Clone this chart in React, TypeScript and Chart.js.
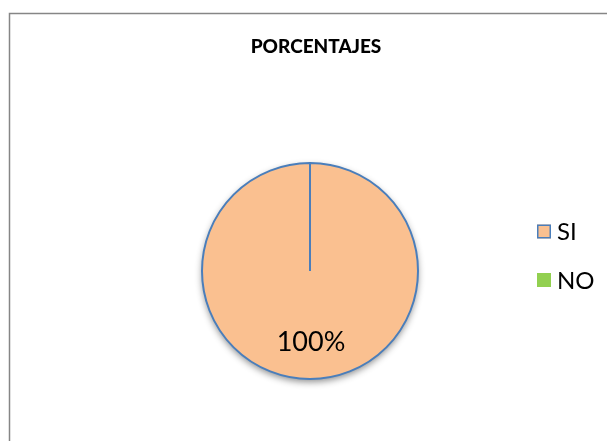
import React, { useEffect, useRef } from "react";
import { Chart, registerables } from "chart.js";

Chart.register(...registerables);

const chartTitle = "PORCENTAJES";
const categories = ["SI", "NO"];
const percentages = [100, 0];

const FONT = "Lato, 'Open Sans', 'Liberation Sans', sans-serif";
const fills = ["#FAC090", "#92D050"];
const borders = ["#4A7EBB", "#92D050"];

const decorPlugin = {
  id: "decor",
  beforeDraw(chart: any) {
    const ctx = chart.ctx;
    ctx.save();
    ctx.fillStyle = "#ffffff";
    ctx.fillRect(0, 0, chart.width, chart.height);
    ctx.strokeStyle = "#868686";
    ctx.lineWidth = 1.5;
    ctx.beginPath();
    ctx.moveTo(chart.width + 5, 13.5);
    ctx.lineTo(9.5, 13.5);
    ctx.lineTo(9.5, chart.height + 5);
    ctx.stroke();
    // title
    ctx.fillStyle = "#000000";
    ctx.font = `900 19px ${FONT}`;
    ctx.textAlign = "center";
    ctx.textBaseline = "alphabetic";
    ctx.fillText(chartTitle, 316, 52.5);
    ctx.restore();
  },
  beforeDatasetsDraw(chart: any) {
    const meta = chart.getDatasetMeta(0);
    const arc = meta.data[0];
    if (!arc) return;
    const { x, y, outerRadius } = arc.getProps(["x", "y", "outerRadius"], true);
    const ctx = chart.ctx;
    ctx.save();
    ctx.shadowColor = "rgba(0,0,0,0.45)";
    ctx.shadowBlur = 7;
    ctx.shadowOffsetY = 3;
    ctx.fillStyle = "#FAC090";
    ctx.beginPath();
    ctx.arc(x, y, outerRadius, 0, Math.PI * 2);
    ctx.fill();
    ctx.restore();
  },
  afterDatasetsDraw(chart: any) {
    const ctx = chart.ctx;
    const meta = chart.getDatasetMeta(0);
    const data = chart.data.datasets[0].data as number[];
    const total = data.reduce((a, b) => a + b, 0);
    ctx.save();
    ctx.fillStyle = "#000000";
    const fs = 27;
    ctx.font = `${fs}px ${FONT}`;
    ctx.textAlign = "center";
    ctx.textBaseline = "alphabetic";
    meta.data.forEach((el: any, i: number) => {
      if (!data[i]) return;
      const { x, y, startAngle, endAngle, outerRadius } = el.getProps(
        ["x", "y", "startAngle", "endAngle", "outerRadius"],
        true
      );
      const mid = (startAngle + endAngle) / 2;
      const r = outerRadius * 0.655;
      const cx = x + Math.cos(mid) * r + 1;
      const cy = y + Math.sin(mid) * r;
      ctx.fillText(Math.round((data[i] / total) * 100) + "%", cx, cy + fs * 0.36);
    });
    // legend
    const labels = chart.data.labels as string[];
    const ds = chart.data.datasets[0] as any;
    const rows = [231.5, 280];
    ctx.textAlign = "left";
    ctx.font = `24px ${FONT}`;
    labels.forEach((lab, i) => {
      const cy = rows[i];
      ctx.fillStyle = ds.backgroundColor[i];
      ctx.fillRect(537, cy - 7, 14, 14);
      if (i === 0) {
        ctx.strokeStyle = ds.borderColor[i];
        ctx.lineWidth = 1.5;
        ctx.strokeRect(537.75, cy - 6.25, 12.5, 12.5);
      }
      ctx.fillStyle = "#000000";
      ctx.fillText(lab, 557, cy + 24 * 0.36);
    });
    ctx.restore();
  },
};

export default function App() {
  const ref = useRef<HTMLCanvasElement | null>(null);
  useEffect(() => {
    if (!ref.current) return;
    const chart = new Chart(ref.current, {
      type: "pie",
      data: {
        labels: categories,
        datasets: [
          {
            data: percentages,
            backgroundColor: fills,
            borderColor: borders,
            borderWidth: [2, 0],
          },
        ],
      },
      options: {
        responsive: false,
        animation: false,
        devicePixelRatio: 1,
        layout: { padding: { left: 160, right: 147, top: 162, bottom: 61 } },
        plugins: {
          legend: { display: false },
          title: { display: false },
          tooltip: { enabled: false },
        },
      },
      plugins: [decorPlugin],
    });
    return () => chart.destroy();
  }, []);
  return (
    <div style={{ position: "fixed", left: 0, top: 0, width: 607, height: 441, background: "#fff" }}>
      <canvas ref={ref} width={607} height={441} style={{ display: "block" }} />
    </div>
  );
}
